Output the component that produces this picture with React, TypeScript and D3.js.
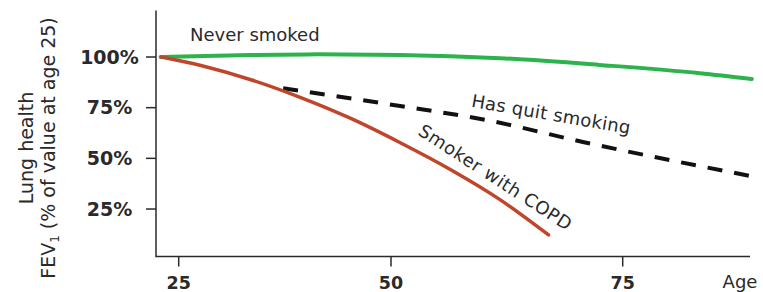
import * as d3 from 'd3';

// ages (x) and FEV1 as % of value at age 25 (y)
const neverAges = [23, 33.4, 41.3, 51, 61.8, 72.5, 83.5, 89.2];
const neverValues = [100, 101.0, 101.3, 101.0, 99.4, 96.1, 92.0, 89.1];

const copdAges = [23.1, 27.5, 33.4, 39.3, 45.2, 51, 56.4, 61.8, 67];
const copdValues = [100, 95.9, 88.9, 80.1, 69.8, 57.7, 44.5, 29.5, 12.2];

const quitAges = [37.3, 51, 60.3, 70.7, 89.5];
const quitValues = [84.6, 75.8, 68.9, 58.1, 40.9];

const xTicks = [25, 50, 75];
const yTicks = [25, 50, 75, 100];

const W = 763;
const H = 292;
const FONT = '"DejaVu Sans", sans-serif';
const INK = '#2a2a2a';

export default function App() {
  // the artwork's age axis is not evenly spaced, so use a piecewise scale
  const x = d3.scaleLinear().domain([22.5, 25, 50, 75, 89]).range([156, 178.7, 391, 622.7, 750]);
  const y = d3.scaleLinear().domain([0, 100]).range([259.7, 57]);
  const axisY = 256.5;

  const line = d3
    .line<[number, number]>()
    .x(d => x(d[0]))
    .y(d => y(d[1]))
    .curve(d3.curveMonotoneX);

  const pts = (a: number[], v: number[]) => a.map((d, i) => [d, v[i]] as [number, number]);

  return (
    <svg width={W} height={H} style={{ position: 'absolute', left: 0, top: 0, background: '#fff' }} fontFamily={FONT}>
      {/* axes */}
      <g stroke={INK} strokeWidth={1.5} fill="none">
        <path d={`M${x(22.5)},${y(123)}V${axisY}H${x(89)}`} />
        {yTicks.map(t => (
          <line key={t} x1={x(22.5) - 10} x2={x(22.5)} y1={y(t)} y2={y(t)} />
        ))}
        {xTicks.map(t => (
          <line key={t} x1={x(t)} x2={x(t)} y1={axisY} y2={axisY + 10} />
        ))}
      </g>
      <g fill={INK} fontWeight="bold" textAnchor="middle">
        {yTicks.map(t => (
          <text key={t} x={109.5} y={y(t) + 6.8} fontSize={19}>{`${t}%`}</text>
        ))}
        {xTicks.map(t => (
          <text key={t} x={x(t)} y={289} fontSize={17.5}>{t}</text>
        ))}
      </g>
      <text x={740} y={288} fontSize={18} fill={INK} textAnchor="middle">Age</text>

      {/* y axis title */}
      <g fill={INK} fontSize={19} textAnchor="middle">
        <text transform="translate(33,148) rotate(-90)">Lung health</text>
        <text transform="translate(55,148) rotate(-90)">
          FEV<tspan fontSize={12} dy={4}>1</tspan>
          <tspan dy={-4}> (% of value at age 25)</tspan>
        </text>
      </g>

      {/* series */}
      <path d={line(pts(neverAges, neverValues)) ?? ''} fill="none" stroke="#2db34b" strokeWidth={4} strokeLinecap="round" />
      <path d={line(pts(quitAges, quitValues)) ?? ''} fill="none" stroke="#111" strokeWidth={4} strokeDasharray="15,12" />
      <path d={line(pts(copdAges, copdValues)) ?? ''} fill="none" stroke="#c0462b" strokeWidth={3.5} strokeLinecap="round" />

      {/* series labels */}
      <g fill={INK} fontSize={18}>
        <text x={190} y={40.7}>Never smoked</text>
        <text transform="translate(470.7,106.8) rotate(9.7)" letterSpacing={0.3}>Has quit smoking</text>
        <text transform="translate(417,134) rotate(33)" letterSpacing={0.6}>Smoker with COPD</text>
      </g>
    </svg>
  );
}
